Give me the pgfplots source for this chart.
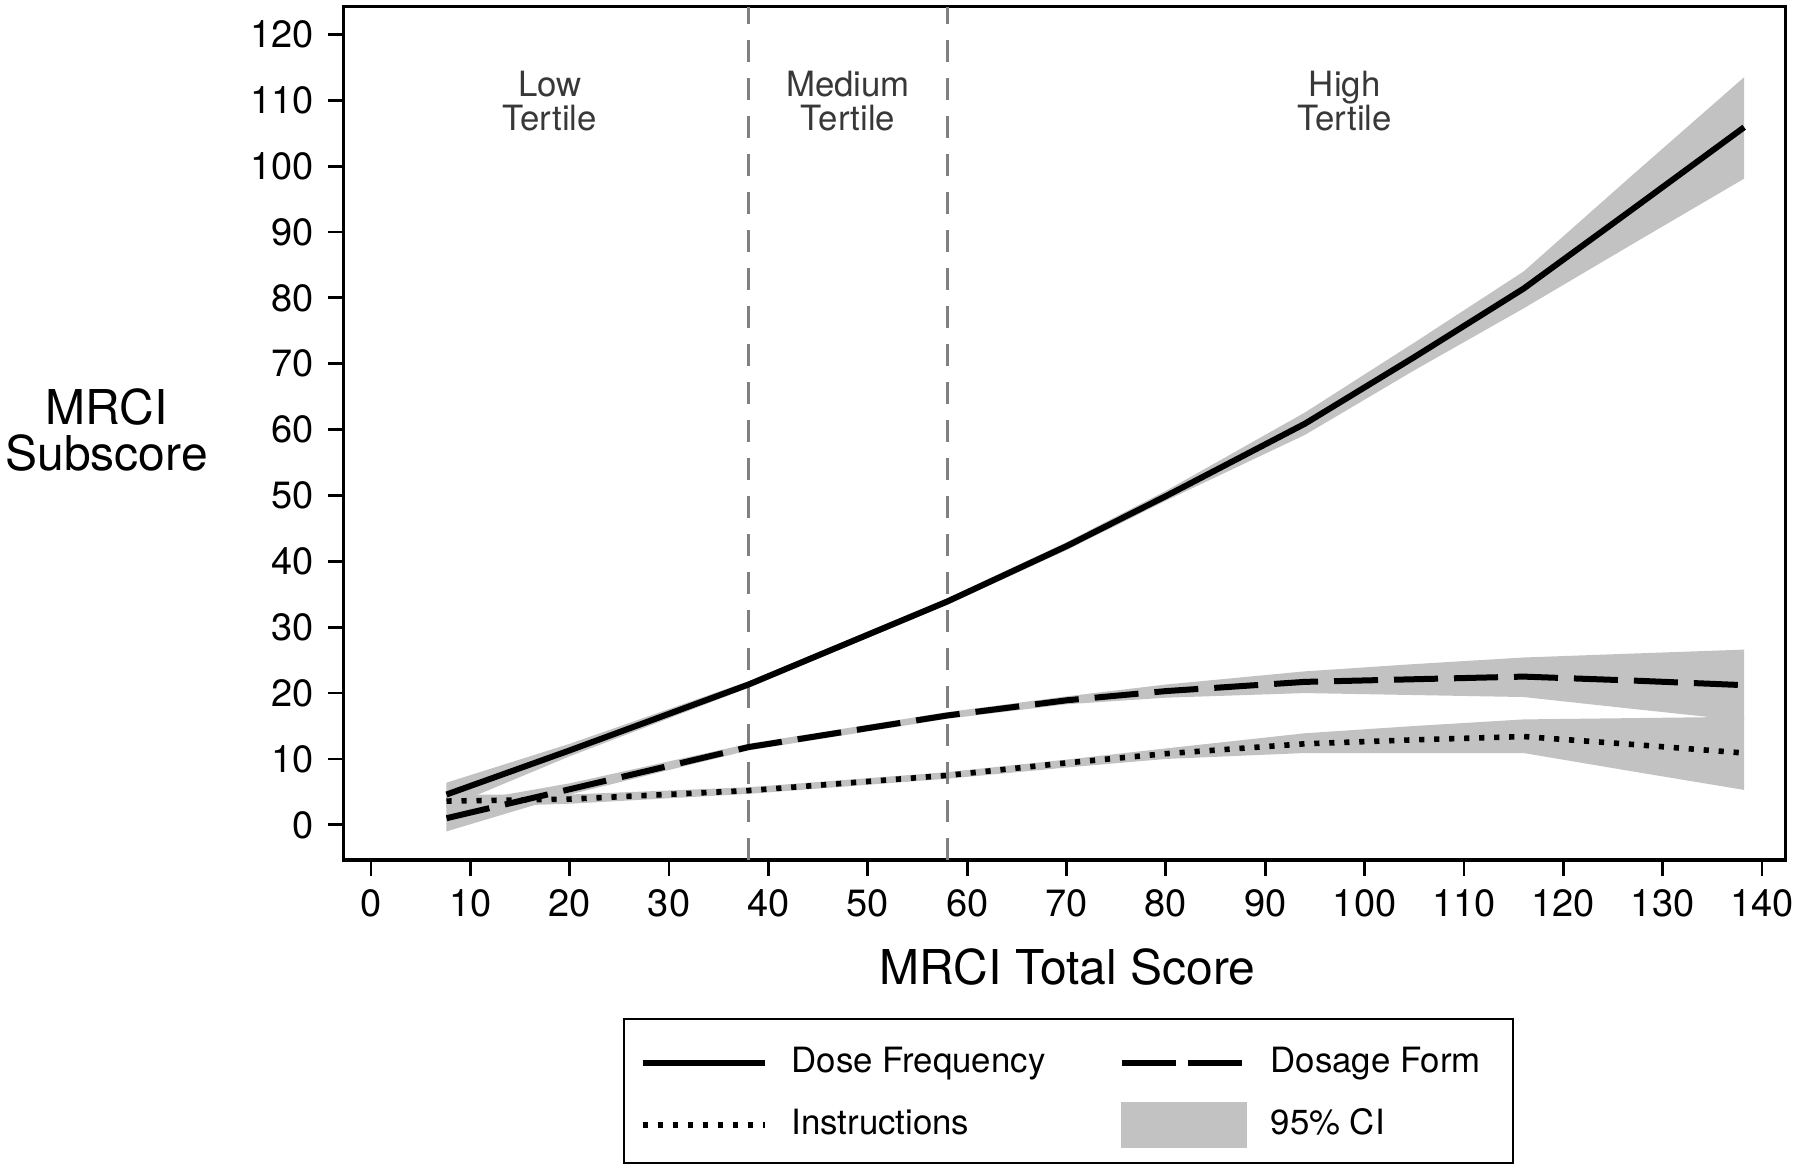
\documentclass[border=0pt]{standalone}
\usepackage{fontspec}
\setmainfont{TeX Gyre Heros}
\usepackage{pgfplots}
\pgfplotsset{compat=1.18}
\usepackage{pgfplotstable}
\usepgfplotslibrary{fillbetween}
\definecolor{bandgray}{gray}{0.76}
\definecolor{vgray}{gray}{0.5}

\pgfplotstableread{
x     df    dflo  dfhi  fm    fmlo  fmhi  in    inlo  inhi
7.6   4.6   2.6   6.4   1.0   -1.0  3.0   3.6   2.6   4.6
20    11.3  10.4  12.3  5.4   4.6   6.3   3.9   3.2   4.6
38    21.3  20.8  21.8  11.8  11.3  12.3  5.2   4.7   5.7
58    33.9  33.4  34.4  16.6  16.1  17.1  7.5   7.0   8.0
70    42.3  41.7  42.9  18.9  18.3  19.5  9.4   8.7   9.9
80    49.9  49.2  50.7  20.3  19.3  21.3  10.8  10.0  11.6
94    60.9  59.2  62.6  21.7  20.0  23.3  12.3  10.9  13.9
105   71.0  69.0  73.2  22.1  19.7  24.4  12.9  10.9  15.0
116   81.4  78.4  84.0  22.5  19.4  25.4  13.4  10.9  16.0
127   93.5  88.2  98.7  21.9  17.6  26.0  12.2  8.1   16.2
138.2 105.9 98.1  113.5 21.2  15.8  26.6  10.9  5.3   16.4
}\data

\begin{document}
\begin{tikzpicture}
\begin{axis}[
  at={(0pt,0pt)}, anchor=south west,
  scale only axis, width=360.5pt, height=213.3pt,
  xmin=-2.74, xmax=142.39, ymin=-5.33, ymax=124.2,
  xtick={0,10,...,140}, ytick={0,10,...,120},
  tick align=outside, major tick length=4pt,
  xtick pos=bottom, ytick pos=left,
  axis line style={line width=0.8pt},
  every tick/.style={black, line width=0.7pt},
  tick label style={font=\fontsize{9.5}{11}\selectfont},
  /pgf/number format/assume math mode=true,
  clip=false,
  legend columns=2,
  legend cell align=left,
  legend image code/.code={\draw[#1] (0pt,0pt) -- (30.5pt,0pt);},
  legend style={at={(0.1939,-0.1852)}, anchor=north west, draw=black, line width=0.5pt,
    font=\fontsize{8.7}{10}\selectfont, inner xsep=3.8pt, inner ysep=3.8pt,
    row sep=5.25pt,
    /tikz/every odd column/.append style={column sep=6pt},
    /tikz/every even column/.append style={column sep=18.3pt},
    nodes={inner sep=0pt, text height=7pt, text depth=2pt}},
]
% confidence bands
\addplot[name path=dfl, draw=none, forget plot] table[x=x,y=dflo]{\data};
\addplot[name path=dfh, draw=none, forget plot] table[x=x,y=dfhi]{\data};
\addplot[bandgray, draw=none, forget plot] fill between[of=dfl and dfh];
\addplot[name path=fml, draw=none, forget plot] table[x=x,y=fmlo]{\data};
\addplot[name path=fmh, draw=none, forget plot] table[x=x,y=fmhi]{\data};
\addplot[bandgray, draw=none, forget plot] fill between[of=fml and fmh];
\addplot[name path=inl, draw=none, forget plot] table[x=x,y=inlo]{\data};
\addplot[name path=inh, draw=none, forget plot] table[x=x,y=inhi]{\data};
\addplot[bandgray, draw=none, forget plot] fill between[of=inl and inh];
% tertile dividers
\addplot[vgray, line width=0.7pt, dash pattern=on 5.5pt off 4pt, forget plot] coordinates {(38,-5.33) (38,124.2)};
\addplot[vgray, line width=0.7pt, dash pattern=on 5.5pt off 4pt, forget plot] coordinates {(58,-5.33) (58,124.2)};
% lines
\addplot[black, line width=1.5pt,
  legend image code/.code={\draw[black, line width=1.5pt] (0pt,0pt) -- (30.5pt,0pt); \path (0pt,6.4pt);}]
  table[x=x,y=df]{\data};
\addlegendentry{Dose Frequency}
\addplot[black, line width=1.5pt, dash pattern=on 11pt off 4pt,
  legend image code/.code={\draw[black, line width=1.5pt, dash pattern=on 13.5pt off 3pt] (0pt,0pt) -- (30.5pt,0pt); \path (0pt,6.4pt);}]
  table[x=x,y=fm]{\data};
\addlegendentry{Dosage Form\kern4.2pt}
\addplot[black, line width=1.4pt, dash pattern=on 1.3pt off 2.45pt] table[x=x,y=in]{\data};
\addlegendentry{Instructions}
\addlegendimage{legend image code/.code={\fill[bandgray] (0pt,-5.5pt) rectangle (31pt,5.5pt);}}
\addlegendentry{95\% CI}
% tertile labels
\node[anchor=north, inner sep=0pt, align=center, text=black!78, font=\fontsize{8.7}{8.5}\selectfont] at (axis cs:18,114.6) {Low\\Tertile};
\node[anchor=north, inner sep=0pt, align=center, text=black!78, font=\fontsize{8.7}{8.5}\selectfont] at (axis cs:48,114.6) {Medium\\Tertile};
\node[anchor=north, inner sep=0pt, align=center, text=black!78, font=\fontsize{8.7}{8.5}\selectfont] at (axis cs:98,114.6) {High\\Tertile};
% axis titles
\node[align=center, font=\fontsize{12}{11.5}\selectfont] at (rel axis cs:-0.1644,0.504) {MRCI\\Subscore};
\node[anchor=base, font=\fontsize{12}{14}\selectfont, yshift=-31.25pt] at (rel axis cs:0.502,0) {MRCI Total Score};
\end{axis}
\pgfresetboundingbox
\useasboundingbox (-85.94pt,-77pt) rectangle (364.06pt,214.98pt);
\end{tikzpicture}
\end{document}
